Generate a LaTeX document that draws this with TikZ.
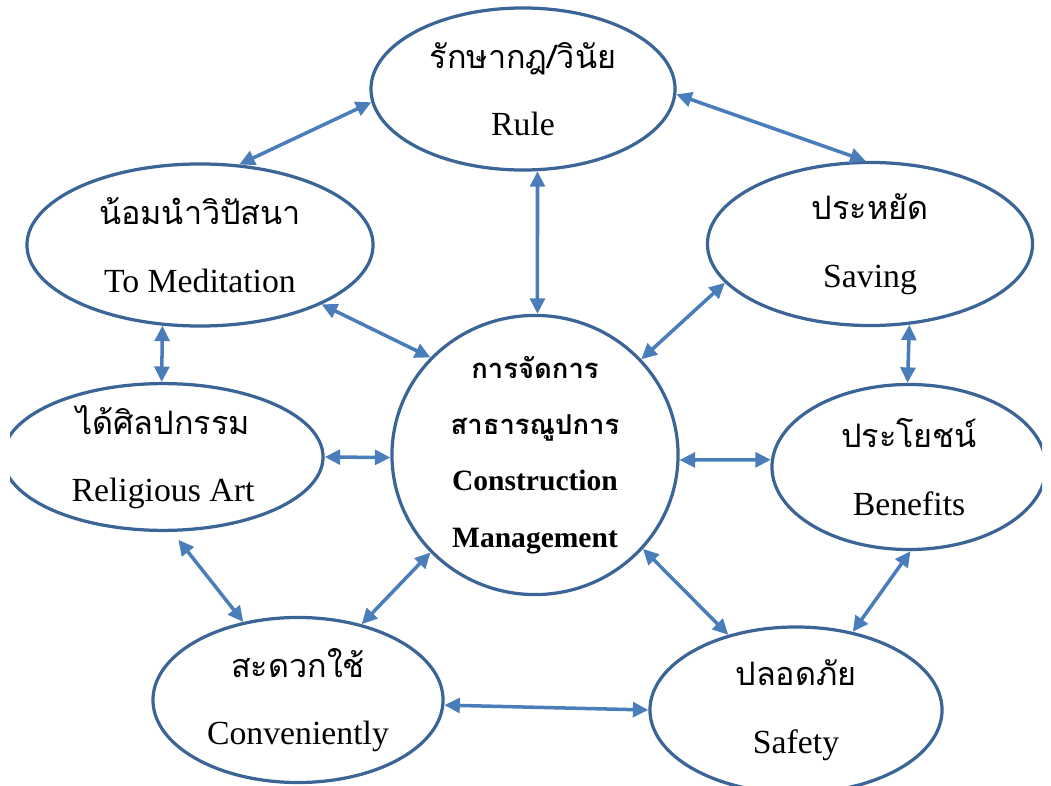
\documentclass[tikz,border=0pt]{standalone}
\usepackage{fontspec}
\setmainfont{Liberation Serif}
\newfontfamily\thaifont[Script=Thai]{Loma}
\usetikzlibrary{shapes.geometric, arrows.meta}
\definecolor{ringblue}{HTML}{3A6596}
\definecolor{linkblue}{HTML}{4A7EBB}

\tikzset{
  bubble/.style={ellipse, draw=ringblue, line width=2.3pt, inner sep=0pt,
    align=center, font=\fontsize{24}{48}\selectfont},
  hub/.style={bubble, font=\bfseries\fontsize{21}{40}\selectfont},
  link/.style={{Triangle[length=11pt,width=10.5pt]}-{Triangle[length=11pt,width=10.5pt]},
    draw=linkblue, line width=2.5pt},
  th/.style={font=\thaifont}
}

\begin{document}
\begin{tikzpicture}[x=0.025cm,y=-0.025cm]
    \useasboundingbox (0,0) rectangle (1051,786);
    \clip (10,-10) rectangle (1042,796);

    \node[bubble, minimum width=7.6cm, minimum height=4.05cm] (rule) at (523,89)
      {{\thaifont\fontsize{23}{48}\selectfont รักษากฎ/วินัย}\\Rule};
    \node[bubble, minimum width=8.65cm, minimum height=4.05cm] (med) at (200,245)
      {{\thaifont\fontsize{23}{48}\selectfont น้อมนำวิปัสนา}\\To Meditation};
    \node[bubble, minimum width=8.125cm, minimum height=4.075cm] (save) at (870,244)
      {{\thaifont\fontsize{23}{48}\selectfont ประหยัด}\\Saving};
    \node[bubble, minimum width=8cm, minimum height=3.575cm] (art) at (163,457)
      {{\thaifont\fontsize{23}{48}\selectfont ได้ศิลปกรรม}\\Religious Art};
    \node[hub, minimum width=7.15cm, minimum height=6.5cm] (hub) at (535,455)
      {{\thaifont\bfseries\fontsize{19.5}{40}\selectfont การจัดการ}\\
       {\thaifont\bfseries\fontsize{19.5}{40}\selectfont สาธารณูปการ}\\
       Construction\\Management};
    \node[bubble, minimum width=6.85cm, minimum height=4.125cm] (ben) at (909,467)
      {{\thaifont\fontsize{23}{48}\selectfont ประโยชน์}\\Benefits};
    \node[bubble, minimum width=7.25cm, minimum height=4.125cm] (conv) at (298,700)
      {{\thaifont\fontsize{23}{48}\selectfont สะดวกใช้}\\Conveniently};
    \node[bubble, minimum width=7.3cm, minimum height=4.15cm] (safe) at (796,710)
      {{\thaifont\fontsize{23}{48}\selectfont ปลอดภัย}\\Safety};

    \draw[link] (rule.185) -- (med.64);
    \draw[link] (rule.-2) -- (save.93);
    \draw[link] (rule.-80) -- (hub.89);
    \draw[link] (med.-26) -- (hub.137);
    \draw[link] (save.195) -- (hub.42);
    \draw[link] (med.245) -- (art.91);
    \draw[link] (save.-64) -- (ben.91);
    \draw[link] (art.0) -- (hub.181);
    \draw[link] (hub.-2) -- (ben.177);
    \draw[link, shorten <=0.25cm] (art.-83) -- (conv.125);
    \draw[link] (hub.223) -- (conv.50);
    \draw[link] (hub.-41) -- (safe.132);
    \draw[link] (ben.-89) -- (safe.54);
    \draw[link] (conv.-2) -- (safe.180);
\end{tikzpicture}
\end{document}
